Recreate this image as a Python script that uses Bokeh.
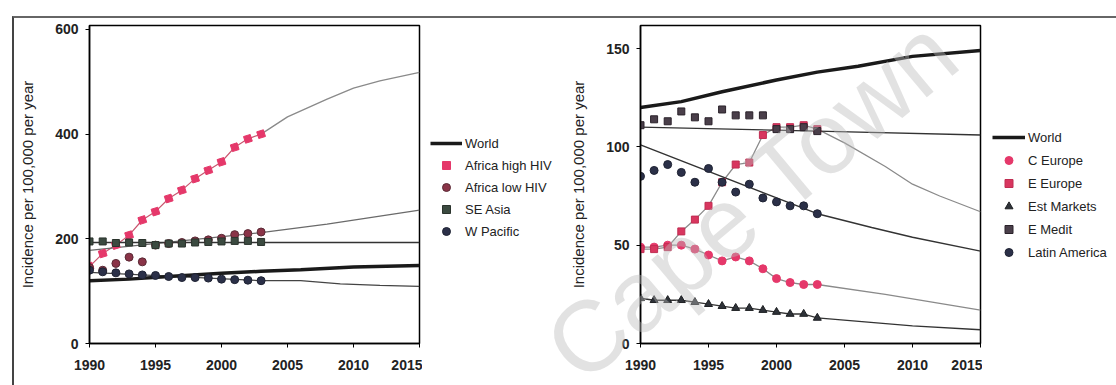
from bokeh.plotting import figure
from bokeh.layouts import row
from bokeh.models import (Legend, LegendItem, FixedTicker, Range1d, InlineStyleSheet)
from bokeh.embed import file_html
from bokeh.resources import INLINE

FONT = "Liberation Sans"

# ---- shared ----
obs_years = list(range(1990, 2004))
tick_years = [1990, 1995, 2000, 2005, 2010, 2015]

world_years = [1990, 1993, 1996, 2000, 2003, 2006, 2010, 2015]
world_vals = [120, 123, 128, 134, 138, 141, 146, 149]

# ---- left panel: Africa and Asia ----
africa_high = [147, 172, 188, 207, 236, 252, 277, 293, 315, 331, 347, 375, 391, 400]
africa_high_proj_years = [2003, 2005, 2008, 2010, 2012, 2015]
africa_high_proj = [400, 433, 467, 488, 502, 518]

africa_low = [145, 140, 153, 165, 156, 188, 191, 193, 196, 198, 201, 208, 210, 213]
africa_low_trend_years = [1990, 2003, 2008, 2015]
africa_low_trend = [178, 212, 228, 255]

se_asia = [195, 195, 192, 193, 192, 188, 191, 191, 193, 194, 195, 196, 196, 194]
se_asia_trend_years = [1990, 2015]
se_asia_trend = [193, 193]

w_pacific = [140, 137, 135, 133, 131, 130, 128, 126, 126, 125, 123, 122, 121, 120]
w_pacific_trend_years = [1990, 2003, 2006, 2009, 2012, 2015]
w_pacific_trend = [136, 120, 120, 114, 111, 109]

left_yticks = [0, 200, 400, 600]

# ---- right panel: Europe, Americas, E Mediterranean ----
c_europe = [49, 49, 50, 50, 48, 45, 42, 44, 42, 38, 33, 31, 30, 30]
c_europe_proj_years = [2003, 2008, 2015]
c_europe_proj = [30, 25, 17]

e_europe = [48, 48, 49, 57, 63, 70, 82, 91, 92, 106, 110, 110, 111, 109]
e_europe_proj_years = [2003, 2005, 2008, 2010, 2012, 2015]
e_europe_proj = [109, 102, 90, 81, 75, 67]

est_markets = [23, 22, 22, 22, 21, 20, 19, 18, 18, 17, 16, 15, 15, 13]
est_markets_proj_years = [2003, 2010, 2015]
est_markets_proj = [13, 9, 7]

e_medit = [111, 114, 113, 118, 115, 113, 119, 116, 116, 116, 109, 109, 110, 108]
e_medit_trend_years = [1990, 2003, 2015]
e_medit_trend = [110, 108, 106]

latin_america = [85, 88, 91, 87, 82, 89, 82, 77, 81, 74, 72, 70, 70, 66]
latin_trend_years = [1990, 2003, 2007, 2010, 2015]
latin_trend = [101, 66, 59, 54, 47]

right_yticks = [0, 50, 100, 150]

PINK = "#e5386a"
ROSE = "#8a3448"
NAVY = "#2b3048"
TREND = "#6a6a6a"

# marker styles per series, shared by the plot and its key
STYLE = {
    "Africa high HIV": dict(marker="square", size=7, fill_color=PINK, line_color=PINK, angle=0.3),
    "Africa low HIV": dict(marker="circle", size=8, fill_color=ROSE, line_color="#5a2a35"),
    "SE Asia": dict(marker="square", size=7, fill_color="#3b4a40", line_color="#2a332c"),
    "W Pacific": dict(marker="circle", size=8, fill_color=NAVY, line_color="#1f2333"),
    "C Europe": dict(marker="circle", size=8, fill_color=PINK, line_color=PINK),
    "E Europe": dict(marker="square", size=7, fill_color="#d8365f", line_color="#c02d52"),
    "Est Markets": dict(marker="triangle", size=8, fill_color="#2e3238", line_color="#1d1f22"),
    "E Medit": dict(marker="square", size=7, fill_color="#4a3f4a", line_color="#2a222a"),
    "Latin America": dict(marker="circle", size=8, fill_color=NAVY, line_color="#1f2333"),
}
WORLD_STYLE = dict(line_color="#1a1a1a", line_width=3.5)

FRAME_TOP = 25
FRAME_BOTTOM = 42


def base_figure(width, left, right, ymax, yticks):
    p = figure(width=width, height=385, output_backend="svg", toolbar_location=None,
               x_range=Range1d(1990, 2015), y_range=Range1d(0, ymax),
               min_border_left=left, min_border_right=right,
               min_border_top=FRAME_TOP, min_border_bottom=FRAME_BOTTOM)
    p.grid.visible = False
    p.outline_line_color = "black"
    p.outline_line_width = 1.5
    p.background_fill_color = "white"
    p.border_fill_color = "white"
    for ax in (p.xaxis[0], p.yaxis[0]):
        ax.axis_line_color = "black"
        ax.axis_line_width = 1.5
        ax.major_tick_line_color = "black"
        ax.major_tick_out = 4
        ax.major_tick_in = 0
        ax.minor_tick_line_color = None
        ax.major_label_text_font = FONT
        ax.major_label_text_font_style = "bold"
        ax.major_label_text_font_size = "14px"
        ax.major_label_text_color = "#222222"
    p.xaxis.ticker = FixedTicker(ticks=tick_years)
    p.xaxis.major_label_standoff = 12
    p.yaxis.ticker = FixedTicker(ticks=yticks)
    p.yaxis.major_label_standoff = 7
    p.yaxis.axis_label = "Incidence per 100,000 per year"
    p.yaxis.axis_label_text_font = FONT
    p.yaxis.axis_label_text_font_style = "normal"
    p.yaxis.axis_label_text_font_size = "15px"
    p.yaxis.axis_label_text_color = "#222222"
    p.yaxis.axis_label_standoff = 16
    return p


def key_figure(width, names, loc, glyph_width, spacing):
    """A bare canvas holding only the key for one panel."""
    k = figure(width=width, height=385, output_backend="svg", toolbar_location=None,
               x_axis_type=None, y_axis_type=None, x_range=Range1d(0, 1),
               y_range=Range1d(0, 1), min_border_left=0, min_border_right=0,
               min_border_top=FRAME_TOP, min_border_bottom=FRAME_BOTTOM)
    k.grid.visible = False
    k.outline_line_color = None
    # key swatches: off-canvas samples carrying each series' style
    items = [LegendItem(label="World",
                        renderers=[k.line([-5, -4], [-5, -5], **WORLD_STYLE)])]
    for name in names:
        items.append(LegendItem(label=name,
                                renderers=[k.scatter([-5], [-5], **STYLE[name])]))
    k.add_layout(Legend(items=items, location=loc, padding=0, margin=0,
                        spacing=spacing, glyph_width=glyph_width, glyph_height=20,
                        label_height=20, label_standoff=3, label_text_font=FONT,
                        label_text_font_size="13px", label_text_color="#222222",
                        border_line_color=None, background_fill_alpha=0))
    return k


# ================= left panel =================
left_names = ["Africa high HIV", "Africa low HIV", "SE Asia", "W Pacific"]
p1 = base_figure(422, 89, 3, 607.6, left_yticks)

p1.line(africa_high_proj_years, africa_high_proj, line_color="#8a8a8a", line_width=1.3)
p1.line(obs_years, africa_high, line_color="#c9566f", line_width=1.2)
p1.line(africa_low_trend_years, africa_low_trend, line_color=TREND, line_width=1.3)
p1.line(se_asia_trend_years, se_asia_trend, line_color="#333333", line_width=1.6)
p1.line(w_pacific_trend_years, w_pacific_trend, line_color="#444444", line_width=1.3)
p1.line(world_years, world_vals, **WORLD_STYLE)

for name, vals in zip(left_names, [africa_high, africa_low, se_asia, w_pacific]):
    p1.scatter(obs_years, vals, **STYLE[name])

k1 = key_figure(134, left_names, (8, 102), 32, 2)

# ================= right panel =================
right_names = ["C Europe", "E Europe", "Est Markets", "E Medit", "Latin America"]
p2 = base_figure(426, 84, 2, 161.7, right_yticks)

p2.line(obs_years + e_europe_proj_years[1:], e_europe + e_europe_proj[1:],
        line_color="#8a8a8a", line_width=1.3)
p2.line(obs_years + c_europe_proj_years[1:], c_europe + c_europe_proj[1:],
        line_color="#8a8a8a", line_width=1.3)
p2.line(obs_years + est_markets_proj_years[1:], est_markets + est_markets_proj[1:],
        line_color="#333333", line_width=1.3)
p2.line(e_medit_trend_years, e_medit_trend, line_color="#333333", line_width=1.4)
p2.line(latin_trend_years, latin_trend, line_color="#333333", line_width=1.4)
p2.line(world_years, world_vals, **WORLD_STYLE)

for name, vals in zip(right_names, [c_europe, e_europe, est_markets, e_medit, latin_america]):
    p2.scatter(obs_years, vals, **STYLE[name])

k2 = key_figure(134, right_names, (10, 81), 33, 3)

# page rule along the top and left edge, plus the diagonal "Cape Town" watermark
page_css = InlineStyleSheet(css="""
:host::after {
  content: ''; position: absolute; left: 12px; top: 16px; width: 1104px; height: 380px;
  border-top: 2px solid #666666; border-left: 2px solid #444444;
  pointer-events: none;
}
:host::before {
  content: 'Cape Town'; position: absolute; left: 592px; top: 298px;
  font-family: 'Liberation Sans'; font-size: 100px; line-height: 100px;
  white-space: nowrap; color: rgba(185, 185, 185, 0.42);
  transform-origin: 0 100%; transform: rotate(-40deg);
  pointer-events: none; z-index: 5;
}
""")

page = row(p1, k1, p2, k2, stylesheets=[page_css])
open("out.html", "w").write(file_html(page, INLINE))
